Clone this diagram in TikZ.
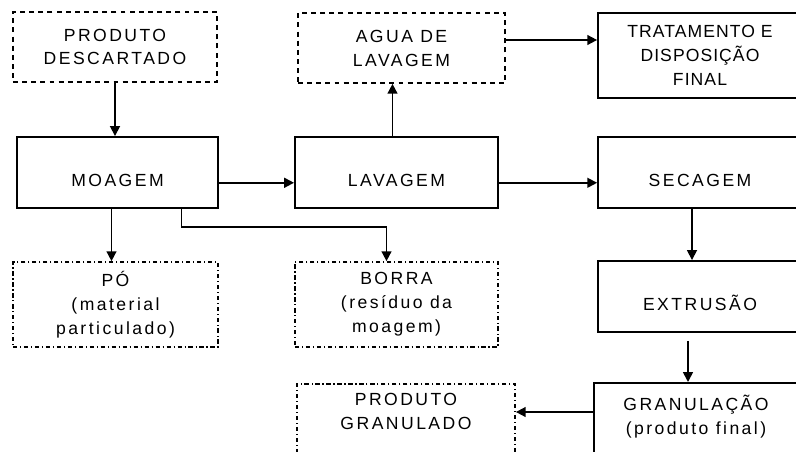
\documentclass[tikz,border=0pt]{standalone}
\usepackage{fontspec}
\setmainfont{Liberation Sans}[LetterSpace=14]
\usepackage{tikz}
\usetikzlibrary{arrows.meta}
\newcommand{\boxfont}{\fontsize{12.5}{17}\selectfont}
\tikzset{
    block/.style={rectangle, draw=black, line width=1.2pt, minimum width=5.1cm, text centered, align=center, font=\boxfont},
    stage/.style={block, minimum height=1.775cm, inner ysep=0pt, text height=1.24cm, text depth=0.54cm},
    waste/.style={block, dash pattern=on 3.5pt off 3pt, minimum height=1.75cm},
    residue/.style={block, dash pattern=on 3pt off 2pt on 0.8pt off 2pt, minimum height=2.125cm},
    outbox/.style={block, anchor=north, text depth=2cm},
    arrow/.style={line width=1.2pt, -{Triangle[length=7pt, width=7pt]}}
}
\begin{document}
\begin{tikzpicture}[x=0.025cm, y=-0.025cm]
    \clip (0,0) rectangle (796,452);
    \fill[white] (0,0) rectangle (796,452);

    % top row
    \node[waste] (descarte) at (115,47) {PRODUTO\\DESCARTADO};
    \node[waste, minimum width=5.175cm] (agua) at (401.5,48) {AGUA DE\\LAVAGEM};
    \node[block, minimum height=2.125cm, font=\boxfont\addfontfeature{LetterSpace=6}] (tratamento) at (700,55.5) {TRATAMENTO E\\DISPOSIÇÃO\\FINAL};

    % process line
    \node[stage, minimum width=5.03cm] (moagem) at (117.5,172.5) {MOAGEM};
    \node[stage, minimum width=5.08cm] (lavagem) at (396.5,172.5) {LAVAGEM};
    \node[stage] (secagem) at (700,172.5) {SECAGEM};

    % residues
    \node[residue, minimum width=5.125cm] (po) at (115.5,304.5) {PÓ\\(material\\particulado)};
    \node[residue, minimum width=5.075cm] (borra) at (396.5,304.5) {BORRA\\(resíduo da\\moagem)};
    \node[stage] (extrusao) at (700,296.5) {EXTRUSÃO};

    % bottom row
    \node[outbox, inner ysep=0.3cm] (granulacao) at (696,382) {GRANULAÇÃO\\(produto final)};
    \node[outbox, dash pattern=on 3pt off 2pt on 0.8pt off 2pt, minimum width=5.45cm, inner ysep=0.235cm] (granulado) at (406,383) {PRODUTO\\GRANULADO};

    \draw[arrow] (descarte.south) -- (descarte.south |- moagem.north);
    \draw[arrow] (moagem.mid east) -- (lavagem.mid west);
    \draw[arrow] (lavagem.mid east) -- (secagem.mid west);
    \draw[arrow] ([xshift=-0.1cm]lavagem.north) -- ([xshift=-0.1cm]lavagem.north |- agua.south);
    \draw[arrow] ([yshift=0.2cm]agua.east) -- ([yshift=0.2cm]agua.east -| tratamento.west);
    \draw[arrow] ([xshift=-0.15cm]moagem.south) -- ([xshift=-0.15cm]moagem.south |- po.north);
    \draw[arrow] ([xshift=1.6cm]moagem.south) -- ++(0,-0.45cm) -| ([xshift=-0.25cm]borra.north);
    \draw[arrow] ([xshift=-0.2cm]secagem.south) -- ([xshift=-0.2cm]secagem.south |- extrusao.north);
    \draw[arrow, shorten <=0.2cm] ([xshift=-0.3cm]extrusao.south) -- ([xshift=-0.3cm]extrusao.south |- granulacao.north);
    \draw[arrow] ([yshift=-0.75cm]granulacao.north west) -- ([yshift=-0.75cm]granulacao.north west -| granulado.east);
\end{tikzpicture}
\end{document}
